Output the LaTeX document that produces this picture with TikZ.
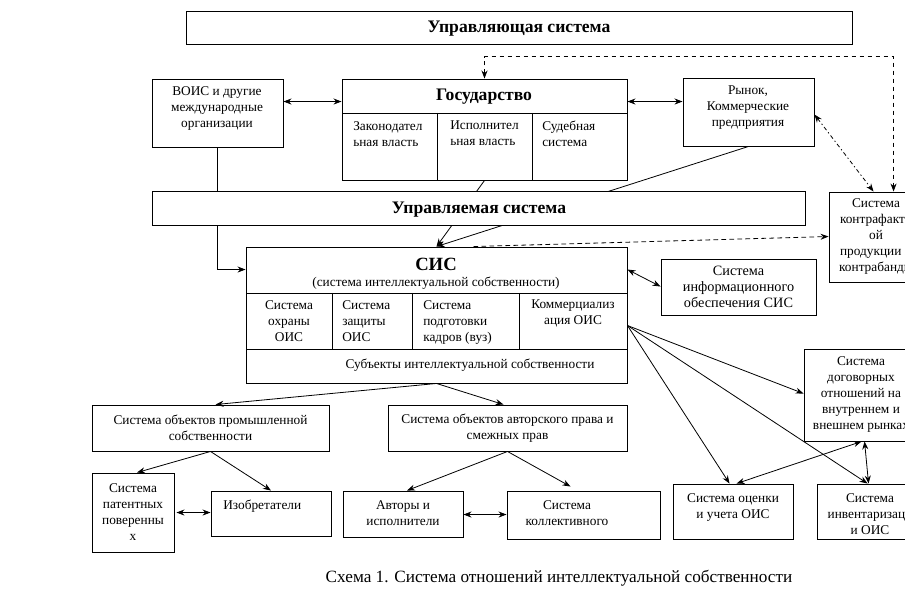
\documentclass[tikz,border=0pt]{standalone}
\usepackage{fontspec}
\setmainfont{Liberation Serif}
\usetikzlibrary{arrows.meta,fit,calc}
\tikzset{
  sysbox/.style={draw, line width=0.7pt, fill=white, inner sep=0pt},
  systext/.style={inner sep=0pt, font=\fontsize{10}{12}\selectfont, align=center},
  syshead/.style={inner sep=0pt, font=\bfseries\fontsize{13.2}{15}\selectfont},
  syspart/.style={draw, line width=0.7pt},
  syslink/.style={draw, line width=0.6pt, -{Stealth[length=6pt,width=4.5pt]}},
  sysboth/.style={syslink, {Stealth[length=6pt,width=4.5pt]}-{Stealth[length=6pt,width=4.5pt]}},
  sysdash/.style={dash pattern=on 3.5pt off 2.5pt},
  sysdashdot/.style={dash pattern=on 3pt off 2pt on 1pt off 2pt}
}
\begin{document}
\begin{tikzpicture}[x=0.75pt, y=-0.75pt]
  \useasboundingbox (0,0) rectangle (905,605);

  % top level
  \node[sysbox, fit={(186,11) (852,44)}] (upr) {};
  \node[syshead] (upr-t) at (519,29) {Управляющая система};

  % partners of the state
  \node[sysbox, fit={(152,79) (283,147)}] (vois) {};
  \node[systext] (vois-t) at (217,109) {ВОИС и другие\\международные\\организации};
  \node[sysbox, fit={(683,78) (814,146)}] (ryn) {};
  \node[systext] (ryn-t) at (748,108) {Рынок,\\Коммерческие\\предприятия};
  \node[sysbox, fit={(829,192) (923,282)}] (kontr) {};
  \node[systext] (kontr-t) at (876,237)
    {Система\\контрафактн\\ой\\продукции и\\контрабанды};

  % the state and its three branches
  \node[sysbox, fit={(342,79) (627,180)}] (gos) {};
  \draw[syspart] (342,113) -- (627,113);
  \foreach \x in {437,532} \draw[syspart] (\x,113) -- (\x,180);
  \node[syshead] (gos-t) at (484,97) {Государство};
  \node[systext, anchor=north west, align=left] (gos-a) at (353,121) {Законодател\\ьная власть};
  \node[systext, anchor=north west, align=left] (gos-b) at (450,121) {Исполнител\\ьная власть};
  \node[systext, anchor=north west, align=left] (gos-c) at (542,121) {Судебная\\система};

  % the intellectual property system
  \node[sysbox, fit={(246,247) (627,383)}] (sis) {};
  \draw[syspart] (246,293) -- (627,293);
  \draw[syspart] (246,349) -- (627,349);
  \foreach \x in {332,412,519} \draw[syspart] (\x,293) -- (\x,349);
  \node[systext, font=\bfseries\fontsize{14}{16}\selectfont] (sis-t) at (436,264) {СИС};
  \node[systext] (sis-s) at (436,283) {(система интеллектуальной собственности)};
  \node[systext, anchor=north] (sis-a) at (289,300) {Система\\охраны\\ОИС};
  \node[systext, anchor=north west, align=left] (sis-b) at (342,300) {Система\\защиты\\ОИС};
  \node[systext, anchor=north west, align=left] (sis-c) at (423,300) {Система\\подготовки\\кадров (вуз)};
  \node[systext, anchor=north] (sis-d) at (573,300) {Коммерциализ\\ация ОИС};
  \node[systext] (sis-e) at (470,365) {Субъекты интеллектуальной собственности};

  % these two run behind the managed level
  \draw[syslink] (gos.south) -- (sis.north);
  \draw[syslink] (ryn.south) -- (sis.north);
  \node[sysbox, fit={(152,191) (805,225)}] (upd) {};
  \node[syshead] (upd-t) at (479,210) {Управляемая система};

  % right hand column
  \node[sysbox, fit={(661,259) (816,315)}] (info) {};
  \node[systext, font=\fontsize{10.7}{12}\selectfont] (info-t) at (info.center)
    {Система\\информационного\\обеспечения СИС};
  \node[sysbox, fit={(804,349) (918,441)}] (dog) {};
  \node[systext] (dog-t) at (861,395)
    {Система\\договорных\\отношений на\\внутреннем и\\внешнем рынках};
  \node[sysbox, fit={(673,484) (793,539)}] (ocen) {};
  \node[systext] (ocen-t) at (733,508) {Система оценки\\и учета ОИС};
  \node[sysbox, fit={(817,484) (923,539)}] (inv) {};
  \node[systext] (inv-t) at (870,514) {Система\\инвентаризаци\\и ОИС};

  % objects and subjects
  \node[sysbox, fit={(92,405) (329,451)}] (prom) {};
  \node[systext] (prom-t) at (prom.center) {Система объектов промышленной\\собственности};
  \node[sysbox, fit={(388,405) (627,451)}] (avt) {};
  \node[systext] (avt-t) at (avt.center) {Система объектов авторского права и\\смежных прав};
  \node[sysbox, fit={(92,473) (174,552)}] (pat) {};
  \node[systext] (pat-t) at (pat.center) {Система\\патентных\\поверенны\\х};
  \node[sysbox, fit={(211,491) (331,536)}] (izo) {};
  \node[systext, anchor=west] (izo-t) at (223,506) {Изобретатели};
  \node[sysbox, fit={(343,491) (463,537)}] (avtr) {};
  \node[systext] (avtr-t) at (403,513) {Авторы и\\исполнители};
  \node[sysbox, fit={(507,491) (660,539)}] (kol) {};
  \node[systext] (kol-t) at (567,513) {Система\\коллективного};

  \node[systext, font=\fontsize{12.9}{15}\selectfont] (caption) at (559,578)
    {Схема 1. Система отношений интеллектуальной собственности};

  % links of the upper part
  \draw[sysboth] ($(vois.north east)+(0,23)$) -- ($(gos.north west)+(0,23)$);
  \draw[sysboth] ($(gos.north east)+(0,23)$) -- ($(ryn.north west)+(0,24)$);
  \draw[syspart, line width=0.6pt] (vois.south) -- (vois.south |- upd.north);
  \draw[syslink] (vois.south |- upd.south) |- ($(sis.north west)+(0,23)$);
  \draw[sysboth, sysdash] (gos.north) -- ++(0,-22) -| ($(kontr.north west)+(65,0)$);
  \draw[sysboth, sysdashdot] ($(ryn.north east)+(0,37)$) -- ($(kontr.north west)+(45,0)$);
  \draw[syslink, sysdash] ($(sis.north)+(37,0)$) -- ($(kontr.north west)+(0,45)$);
  \draw[sysboth] ($(sis.north east)+(0,23)$) -- ($(info.north west)+(0,28)$);

  % links of the right part
  \coordinate (sisout) at ($(sis.north east)+(0,79)$);
  \draw[syslink] (sisout) -- ($(dog.north west)+(0,45)$);
  \draw[syslink] (sisout) -- ($(ocen.north west)+(57,0)$);
  \draw[syslink] (sisout) -- ($(inv.north west)+(51,0)$);
  \draw[sysboth] ($(ocen.north west)+(64,0)$) -- ($(dog.south west)+(58,0)$);
  \draw[sysboth] ($(dog.south west)+(61,0)$) -- ($(inv.north west)+(52,0)$);

  % links of the lower part
  \draw[syslink] (sis.south) -- ($(prom.north)+(5,0)$);
  \draw[syslink] (sis.south) -- ($(avt.north)+(-4,0)$);
  \draw[syslink] (prom.south) -- ($(pat.north)+(4,0)$);
  \draw[syslink] (prom.south) -- (izo.north);
  \draw[sysboth] ($(pat.north east)+(2,40)$) -- ($(izo.north west)+(0,22)$);
  \draw[syslink] (avt.south) -- ($(avtr.north)+(4,0)$);
  \draw[syslink] (avt.south) -- ($(kol.north)+(-13,-4)$);
  \draw[sysboth] ($(avtr.north east)+(0,24)$) -- ($(kol.north west)+(0,24)$);
\end{tikzpicture}
\end{document}
